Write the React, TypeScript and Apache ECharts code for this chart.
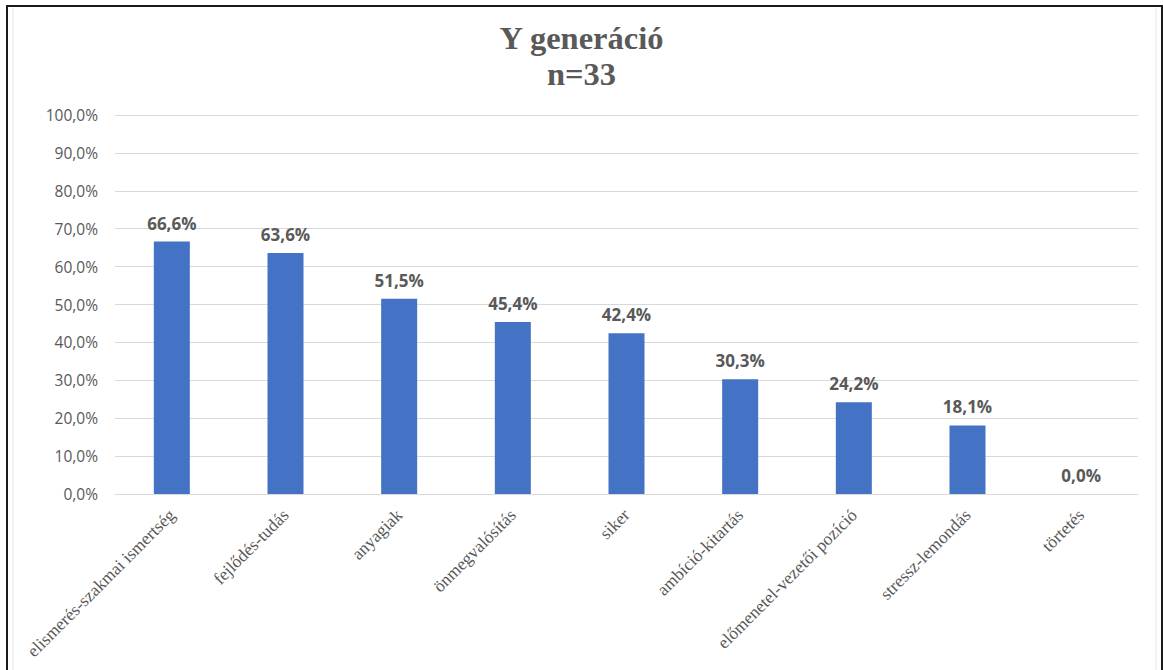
import React, { useEffect, useRef } from "react";
import * as echarts from "echarts";

const categories = [
  "elismerés-szakmai ismertség",
  "fejlődés-tudás",
  "anyagiak",
  "önmegvalósítás",
  "siker",
  "ambíció-kitartás",
  "előmenetel-vezetői pozíció",
  "stressz-lemondás",
  "törtetés",
];
const values = [66.6, 63.6, 51.5, 45.4, 42.4, 30.3, 24.2, 18.1, 0.0];
const titleLines = ["Y generáció", "n=33"];

const fmt = (v: number) => v.toFixed(1).replace(".", ",") + "%";

export default function App() {
  const ref = useRef<HTMLDivElement>(null);
  useEffect(() => {
    if (!ref.current) return;
    const chart = echarts.init(ref.current, null, { renderer: "svg" });
    chart.setOption({
      animation: false,
      backgroundColor: "#ffffff",
      title: {
        text: titleLines.join("\n"),
        left: "center",
        top: 15,
        textStyle: {
          fontFamily: "Liberation Serif",
          fontWeight: "bold",
          fontSize: 32.5,
          color: "#595959",
          lineHeight: 36,
        },
      },
      graphic: [
        {
          type: "rect",
          shape: { x: 7, y: 6, width: 1155, height: 700 },
          style: { fill: "none", stroke: "#1a1a1a", lineWidth: 2 },
          silent: true,
        },
        {
          type: "line",
          shape: { x1: 13, y1: 8, x2: 13, y2: 670 },
          style: { stroke: "#e6e6e6", lineWidth: 1 },
          silent: true,
        },
        {
          type: "line",
          shape: { x1: 1156, y1: 8, x2: 1156, y2: 670 },
          style: { stroke: "#e6e6e6", lineWidth: 1 },
          silent: true,
        },
      ],
      grid: { left: 115, right: 25, top: 115, bottom: 176, containLabel: false },
      xAxis: {
        type: "category",
        data: categories,
        axisLine: { show: true, lineStyle: { color: "#d9d9d9", width: 1 } },
        axisTick: { show: false },
        axisLabel: {
          rotate: 45,
          interval: 0,
          margin: 18,
          fontFamily: "Liberation Serif",
          fontSize: 17.5,
          color: "#595959",
        },
      },
      yAxis: {
        type: "value",
        min: 0,
        max: 100,
        interval: 10,
        axisLine: { show: false },
        axisTick: { show: false },
        splitLine: { lineStyle: { color: "#d9d9d9", width: 1 } },
        axisLabel: {
          formatter: (v: number) => fmt(v),
          fontFamily: "Open Sans",
          fontSize: 15.5,
          color: "#595959",
          margin: 17,
        },
      },
      series: [
        {
          type: "bar",
          data: values,
          barWidth: 36,
          itemStyle: { color: "#4472c4" },
          label: {
            show: true,
            position: "top",
            distance: 10,
            formatter: (p: any) => fmt(p.value),
            fontFamily: "Open Sans",
            fontWeight: "bold",
            fontSize: 17,
            color: "#595959",
          },
        },
      ],
    });
    return () => chart.dispose();
  }, []);
  return (
    <div
      ref={ref}
      style={{ position: "fixed", left: 0, top: 0, width: 1163, height: 670 }}
    />
  );
}
